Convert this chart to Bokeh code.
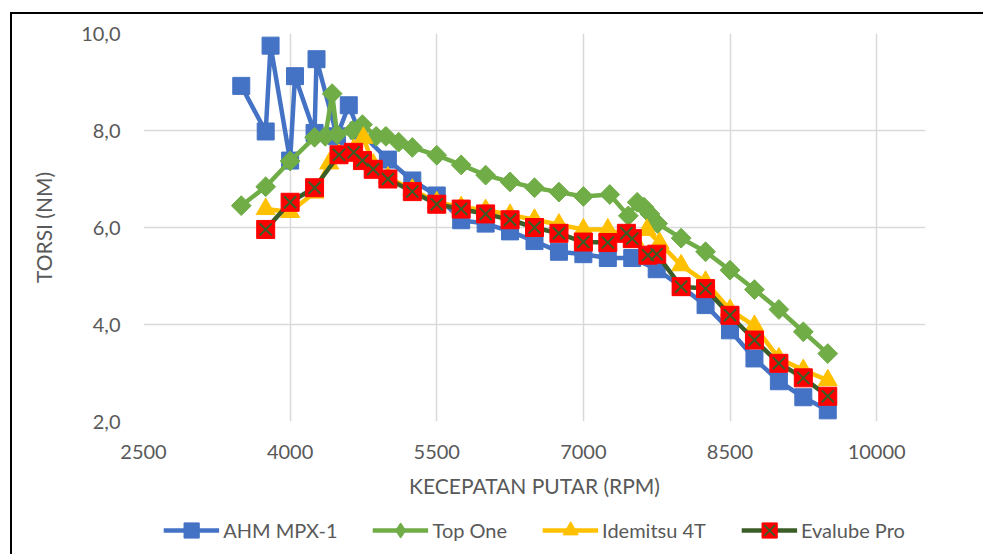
import math
from bokeh.plotting import figure
from bokeh.layouts import column
from bokeh.models import FixedTicker, Legend, LegendItem, Range1d
from bokeh.embed import file_html
from bokeh.resources import INLINE

# ---- data ----
rpm_ahm = [3500, 3750, 3800, 4000, 4050, 4250, 4270, 4480, 4600, 4700, 5000, 5250, 5500,
           5750, 6000, 6250, 6500, 6750, 7000, 7250, 7500, 7750, 8000, 8250, 8500, 8750,
           9000, 9250, 9500]
torsi_ahm = [8.92, 7.98, 9.75, 7.38, 9.12, 7.95, 9.47, 7.88, 8.52, 8.0, 7.4, 6.97, 6.66,
             6.15, 6.08, 5.92, 5.72, 5.5, 5.45, 5.37, 5.37, 5.14, 4.78, 4.4, 3.88, 3.3,
             2.83, 2.5, 2.23]

rpm_top = [3500, 3750, 4000, 4250, 4360, 4430, 4480, 4640, 4740, 4880, 4980, 5110, 5250,
           5500, 5750, 6000, 6250, 6500, 6750, 7000, 7270, 7460, 7550, 7620, 7680, 7760,
           8000, 8250, 8500, 8750, 9000, 9250, 9500]
torsi_top = [6.45, 6.84, 7.37, 7.86, 7.88, 8.76, 7.92, 8.0, 8.12, 7.88, 7.88, 7.76, 7.65,
             7.49, 7.29, 7.08, 6.94, 6.82, 6.73, 6.64, 6.68, 6.24, 6.52, 6.42, 6.28, 6.08,
             5.78, 5.5, 5.12, 4.72, 4.31, 3.85, 3.4]

rpm_ide = [3750, 4000, 4250, 4400, 4500, 4650, 4750, 4850, 5000, 5250, 5500, 5750, 6000,
           6250, 6500, 6750, 7000, 7250, 7450, 7520, 7650, 7780, 8000, 8250, 8500, 8750,
           9000, 9250, 9500]
torsi_ide = [6.38, 6.32, 6.72, 7.32, 7.5, 7.6, 7.85, 7.3, 7.03, 6.78, 6.52, 6.42, 6.36,
             6.26, 6.16, 6.06, 5.96, 5.96, 5.82, 5.75, 5.95, 5.68, 5.22, 4.88, 4.3, 3.97,
             3.3, 3.06, 2.85]

rpm_eva = [3750, 4000, 4250, 4500, 4650, 4740, 4850, 5000, 5250, 5500, 5750, 6000, 6250,
           6500, 6750, 7000, 7250, 7440, 7500, 7660, 7750, 8000, 8250, 8500, 8750, 9000,
           9250, 9500]
torsi_eva = [5.96, 6.52, 6.82, 7.5, 7.55, 7.38, 7.2, 7.0, 6.74, 6.48, 6.38, 6.28, 6.16,
             6.0, 5.88, 5.7, 5.69, 5.88, 5.77, 5.43, 5.45, 4.78, 4.74, 4.19, 3.68, 3.2,
             2.9, 2.52]

x_ticks = [2500, 4000, 5500, 7000, 8500, 10000]
y_ticks = [2, 4, 6, 8, 10]
y_tick_labels = ["2,0", "4,0", "6,0", "8,0", "10,0"]

series_names = ["AHM MPX-1", "Top One", "Idemitsu 4T", "Evalube Pro"]

BLUE = "#4472C4"
GREEN = "#70AD47"
YELLOW = "#FFC000"
DKGREEN = "#3B5E28"
RED = "#FF0000"
GRID = "#D9D9D9"
TXT = "#595959"
FONT = "Lato"
LW = 4.5


def draw_series(fig, for_legend=False):
    l1 = fig.line(rpm_ahm, torsi_ahm, line_color=BLUE, line_width=LW)
    m1 = fig.scatter(rpm_ahm, torsi_ahm, marker="square", size=17, fill_color=BLUE,
                     line_color=BLUE)
    l2 = fig.line(rpm_top, torsi_top, line_color=GREEN, line_width=LW)
    if for_legend:
        m2 = fig.scatter(rpm_top, torsi_top, marker="diamond", size=20,
                         fill_color=GREEN, line_color=GREEN)
    else:
        m2 = fig.scatter(rpm_top, torsi_top, marker="square", size=14, angle=math.pi / 4,
                         fill_color=GREEN, line_color=GREEN)
    l3 = fig.line(rpm_ide, torsi_ide, line_color=YELLOW, line_width=LW)
    m3 = fig.scatter(rpm_ide, torsi_ide, marker="triangle", size=19, fill_color=YELLOW,
                     line_color=YELLOW)
    l4 = fig.line(rpm_eva, torsi_eva, line_color=DKGREEN, line_width=LW)
    m4 = fig.scatter(rpm_eva, torsi_eva, marker="square", size=18, fill_color=RED,
                     line_color=RED)
    m4x = fig.scatter(rpm_eva, torsi_eva, marker="x", size=17, line_color=DKGREEN,
                      line_width=2)
    return [[l1, m1], [l2, m2], [l3, m3], [l4, m4, m4x]]


# ---- main chart ----
p = figure(width=971, height=492, output_backend="svg", toolbar_location=None,
           x_range=Range1d(2500, 10500), y_range=Range1d(2, 10),
           min_border_left=131, min_border_top=19, min_border_right=58,
           min_border_bottom=85)
p.outline_line_color = None
p.background_fill_color = "white"
p.border_fill_color = "white"

p.xaxis.ticker = FixedTicker(ticks=x_ticks)
p.yaxis.ticker = FixedTicker(ticks=y_ticks)
p.yaxis.major_label_overrides = {float(t): l for t, l in zip(y_ticks, y_tick_labels)}
p.xaxis.major_label_overrides = {float(t): str(t) for t in x_ticks}

for ax in (p.xaxis, p.yaxis):
    ax.axis_line_color = None
    ax.major_tick_line_color = None
    ax.minor_tick_line_color = None
    ax.major_tick_out = 0
    ax.major_tick_in = 0
    ax.major_label_text_font = FONT
    ax.major_label_text_font_size = "20px"
    ax.major_label_text_color = TXT
    ax.axis_label_text_font = FONT
    ax.axis_label_text_font_size = "21px"
    ax.axis_label_text_color = TXT
    ax.axis_label_text_font_style = "normal"

p.xaxis.axis_label = "KECEPATAN PUTAR (RPM)"
p.yaxis.axis_label = "TORSI (NM)"
p.xaxis.major_label_standoff = 23
p.xaxis.axis_label_standoff = 11
p.yaxis.major_label_standoff = 23
p.yaxis.axis_label_standoff = 22

p.xgrid.grid_line_color = GRID
p.ygrid.grid_line_color = GRID
p.xgrid.grid_line_width = 1.5
p.ygrid.grid_line_width = 1.5

draw_series(p)

# ---- legend strip (same series, drawn outside its own view so only the legend shows) ----
q = figure(width=971, height=48, output_backend="svg", toolbar_location=None,
           x_range=Range1d(0, 1), y_range=Range1d(0, 1),
           x_axis_location=None, y_axis_location=None,
           min_border_left=107, min_border_right=0, min_border_top=0,
           min_border_bottom=0)
q.outline_line_color = None
q.xgrid.visible = False
q.ygrid.visible = False
q.background_fill_color = "white"
q.border_fill_color = "white"

groups = draw_series(q, for_legend=True)
legend = Legend(items=[LegendItem(label=n, renderers=g) for n, g in zip(series_names, groups)],
                orientation="horizontal", location="center",
                label_text_font=FONT, label_text_font_size="20px", label_text_color=TXT,
                glyph_width=56, glyph_height=38, spacing=35, label_standoff=4,
                padding=4, margin=0, border_line_color=None, background_fill_alpha=0)
q.add_layout(legend)

layout = column(p, q, spacing=0,
                styles={"margin-left": "10px", "margin-top": "12px",
                        "border-left": "2px solid black", "border-top": "2px solid black"})

open("out.html", "w").write(file_html(layout, INLINE))
